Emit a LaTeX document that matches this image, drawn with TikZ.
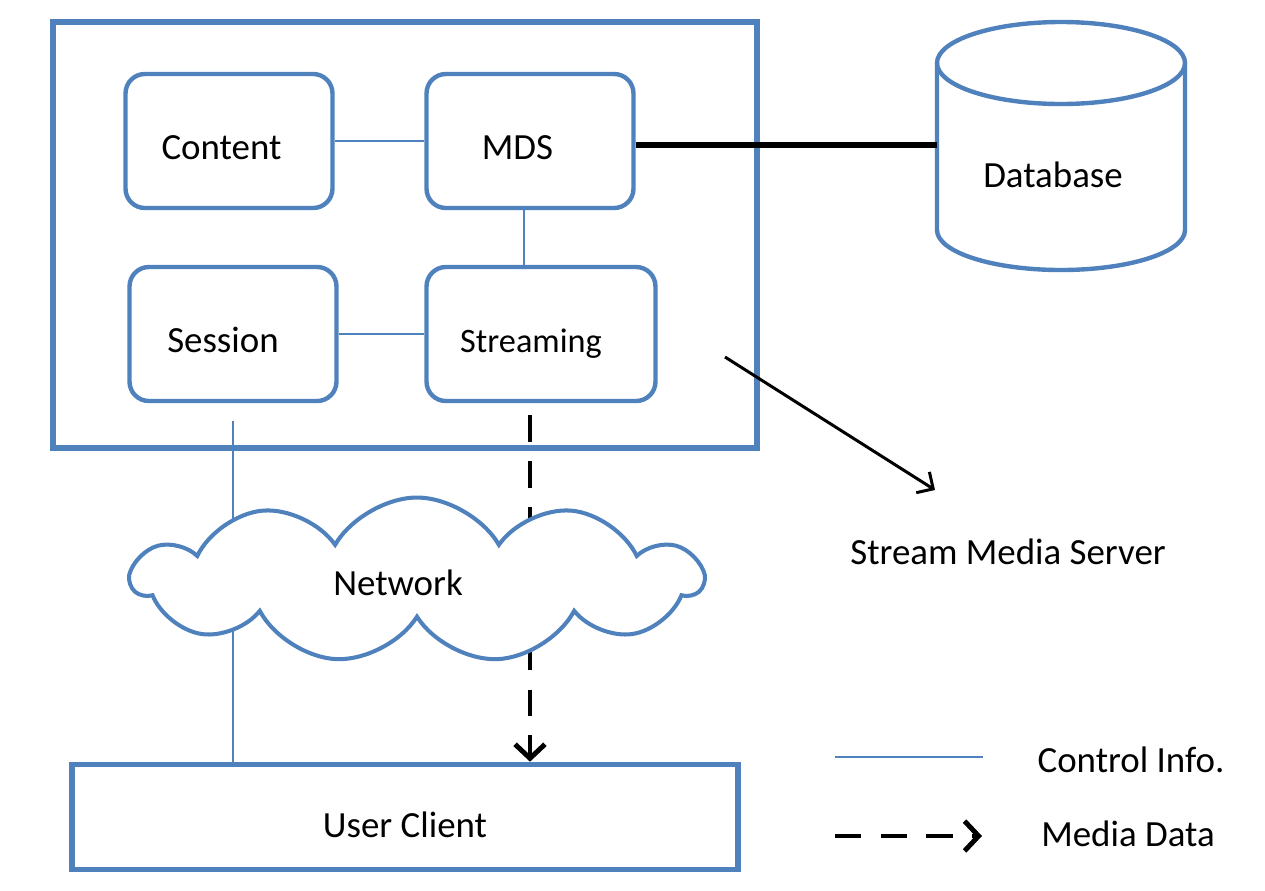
\documentclass[tikz,border=0pt]{standalone}
\usepackage{fontspec}
\setmainfont{Carlito}
\usepackage{tikz}
\usetikzlibrary{arrows.meta,shapes.symbols}
\definecolor{cblue}{HTML}{4F81BD}

\begin{document}
\begin{tikzpicture}
			[x=0.02cm,y=-0.02cm,every node/.style={font=\fontsize{21}{25}\selectfont},
			module/.style={draw=cblue,line width=2.5pt,rounded corners=11pt,minimum width=4.14cm,minimum height=2.68cm,text height=21.4pt,text depth=0pt},
			ctrl/.style={draw=cblue,line width=1.2pt},
			media/.style={-{Straight Barb[length=8pt,width=17pt]},line width=2.8pt,dash pattern=on 15pt off 11pt}]
			\useasboundingbox (0,0) rectangle (1265,890);

			% server and its modules
			\node[draw=cblue,line width=3.4pt,minimum width=14.08cm,minimum height=8.52cm] (server) at (405,235) {};
			\node[module] (content) at (229,141) {Content\hspace*{0.3cm}};
			\node[module] (mds) at (530,141) {MDS\hspace*{0.5cm}};
			\node[module] (session) at (233,334) {Session\hspace*{0.4cm}};
			\node[module,minimum width=4.58cm,font=\fontsize{19.5}{23}\selectfont] (streaming) at (541,334) {Streaming\hspace*{0.4cm}};

			% database
			\node[minimum width=4.96cm,minimum height=4.96cm] (db) at (1061,146) {};
			\draw[draw=cblue,line width=2.5pt,fill=white] (937,63) -- (937,230) arc[start angle=180,end angle=0,x radius=124,y radius=40] -- (1185,63);
			\draw[draw=cblue,line width=2.5pt] (1061,63) ellipse[x radius=124,y radius=41];
			\node (dbtext) at (1053,175) {Database};

			\node[draw=cblue,line width=3.2pt,minimum width=13.32cm,minimum height=2.1cm] (client) at (405,817) {};
			\node at (405,825) {User Client};

			\foreach \from/\to in {content/mds,session/streaming}
			\draw[ctrl] (\from.east) -- (\to.west);
			\draw[ctrl] ([xshift=-0.12cm]mds.south) -- ([xshift=-0.12cm]mds.south |- streaming.north);
			\draw[line width=3.2pt] ([yshift=-0.08cm]mds.east) -- ([yshift=-0.08cm]mds.east -| db.west);

			\draw[ctrl,shorten <=10pt] (session.south) -- (session.south |- client.north);
			\draw[media,shorten <=7pt] (mds.south |- streaming.south) -- (mds.south |- client.north);

			\node[cloud,draw=cblue,fill=white,line width=2.3pt,cloud puffs=11,cloud puff arc=120,aspect=3.8,
				minimum width=11.4cm,minimum height=3.3cm,inner sep=0pt] (net) at (417,580) {};
			\node at (398,583) {Network};

			% server label
			\coordinate (srvptr) at (725,357);
			\coordinate (srvtip) at (935,490);
			\draw[-{Straight Barb[length=7pt,width=14pt]},line width=1.7pt] (srvptr) -- (srvtip);
			\node (srvlabel) at (1008,552) {Stream Media Server};

			% legend
			\coordinate (ctl1) at (835,757);
			\coordinate (ctl2) at (983,757);
			\coordinate (med1) at (835,836);
			\coordinate (med2) at (982,836);
			\draw[ctrl] (ctl1) -- (ctl2);
			\draw[media] (med1) -- (med2);
			\node (ctltext) at (1131,760) {Control Info.};
			\node (medtext) at (1128,834) {Media Data};

			\end{tikzpicture}
\end{document}
